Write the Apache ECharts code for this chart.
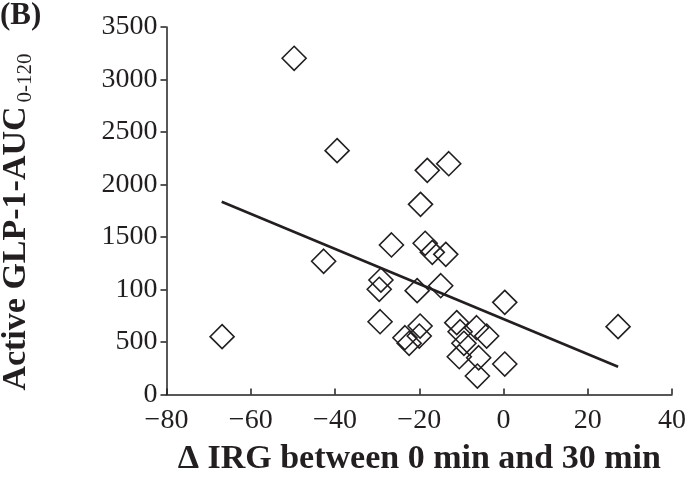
<!DOCTYPE html>
<html>
<head>
<meta charset="utf-8">
<script src="https://cdn.jsdelivr.net/npm/echarts@6/dist/echarts.min.js"></script>
<style>html,body{margin:0;padding:0;background:#fff}#c{width:685px;height:477px}</style>
</head>
<body>
<div id="c"></div>
<script>
// Data
const xValues = [-49.7, -39.5, -18.1, -13.0, -19.7, -66.8, -42.7, -26.6, -29.1, -29.5, -29.3, -18.6, -16.9, -13.7, -20.5, -14.9, 0.3, -19.8, -20.0, -23.4, -22.4, -11.1, -10.3, -6.4, -4.0, -9.4, -10.5, -5.9, -6.2, 0.3, 27.2];
const yValues = [3202, 2322, 2135, 2198, 1811, 551, 1269, 1424, 1090, 1002, 693, 1440, 1354, 1335, 989, 1036, 878, 652, 557, 541, 488, 684, 598, 636, 557, 488, 360, 350, 176, 290, 646];
const fitX = [-66.9, 27.2];
const fitY = [1836, 265];
const xTickLabels = ['\u221280', '\u221260', '\u221240', '\u221220', '0', '20', '40'];
const yTickLabels = ['0', '500', '100', '1500', '2000', '2500', '3000', '3500'];
const xTitle = '\u0394 IRG between 0 min and 30 min';
const yTitleMain = 'Active GLP-1-AUC';
const yTitleSub = '0-120';
const panelLabel = '(B)';

const FONT = '"Liberation Serif", "DejaVu Serif", serif';
const INK = '#231f20';

const chart = echarts.init(document.getElementById('c'), null, {renderer: 'canvas'});
chart.setOption({
  animation: false,
  backgroundColor: '#fff',
  grid: {left: 166.5, right: 13, top: 27, bottom: 82.5, containLabel: false, outerBoundsMode: 'none'},
  xAxis: {
    type: 'value', min: -80, max: 40, interval: 20,
    splitLine: {show: false},
    axisLine: {show: true, onZero: false, lineStyle: {color: INK, width: 1.5}},
    axisTick: {show: true, inside: true, length: 6, lineStyle: {color: INK, width: 1.5}},
    axisLabel: {
      fontFamily: FONT, fontSize: 28, color: INK, margin: 12,
      formatter: function (v) { return xTickLabels[Math.round((v + 80) / 20)]; }
    },
    name: xTitle, nameLocation: 'middle', nameGap: 48,
    nameTextStyle: {fontFamily: FONT, fontSize: 34, fontWeight: 'bold', color: INK}
  },
  yAxis: {
    type: 'value', min: 0, max: 3500, interval: 500,
    splitLine: {show: false},
    axisLine: {show: true, onZero: false, lineStyle: {color: INK, width: 1.5}},
    axisTick: {show: true, inside: false, length: 6, lineStyle: {color: INK, width: 1.5}},
    axisLabel: {
      fontFamily: FONT, fontSize: 28, color: INK, margin: 9,
      formatter: function (v) { return yTickLabels[Math.round(v / 500)]; }
    }
  },
  graphic: [
    {
      type: 'text', left: 0, top: 0,
      style: {text: panelLabel, font: 'bold 31px ' + FONT, fill: INK}
    },
    {
      type: 'text', x: 16, y: 222, rotation: Math.PI / 2,
      style: {
        text: '{a|' + yTitleMain + '}{b|' + yTitleSub + '}',
        align: 'center', verticalAlign: 'middle',
        rich: {
          a: {fontFamily: FONT, fontSize: 34, fontWeight: 'bold', fill: INK, lineHeight: 40, verticalAlign: 'middle'},
          b: {fontFamily: FONT, fontSize: 21, fill: INK, lineHeight: 40, verticalAlign: 'bottom', padding: [14, 0, 0, 4]}
        }
      }
    }
  ],
  series: [
    {
      type: 'scatter',
      data: xValues.map(function (x, i) { return [x, yValues[i]]; }),
      symbol: 'diamond', symbolSize: 24,
      itemStyle: {color: 'rgba(0,0,0,0)', borderColor: INK, borderWidth: 1.6, opacity: 1},
      z: 3
    },
    {
      type: 'line',
      data: fitX.map(function (x, i) { return [x, fitY[i]]; }),
      symbol: 'none',
      lineStyle: {color: INK, width: 2.6},
      z: 2
    }
  ]
});
</script>
</body>
</html>
